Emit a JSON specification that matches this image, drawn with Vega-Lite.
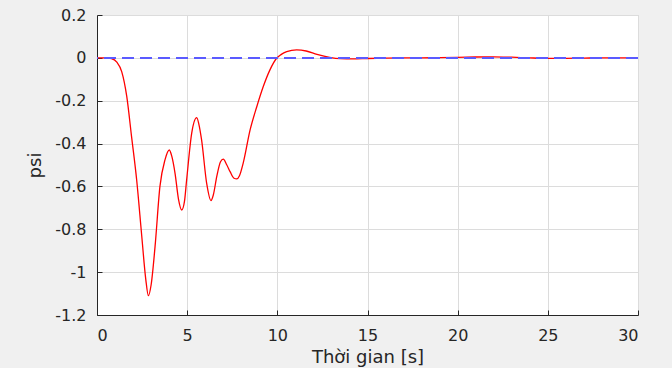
{
  "$schema": "https://vega.github.io/schema/vega-lite/v6.json",
  "width": 541,
  "height": 300,
  "autosize": {"type": "none"},
  "padding": {"left": 97, "top": 15, "right": 34, "bottom": 53},
  "background": "#f0f0f0",
  "config": {
    "view": {"fill": "white", "stroke": "#d4d4d4", "strokeWidth": 1},
    "axis": {
      "labelFont": "DejaVu Sans",
      "titleFont": "DejaVu Sans",
      "labelFontSize": 16,
      "titleFontSize": 18,
      "titleFontWeight": "normal",
      "labelColor": "#262626",
      "titleColor": "#262626",
      "domainColor": "#262626",
      "tickColor": "#262626",
      "gridColor": "#dcdcdc",
      "gridOpacity": 1,
      "tickSize": -5,
      "domainWidth": 1
    }
  },
  "data": {
    "values": [
      {"t": 0, "psi": 0},
      {"t": 0.5, "psi": 0},
      {"t": 0.8, "psi": -0.003},
      {"t": 1.1, "psi": -0.02},
      {"t": 1.37, "psi": -0.064},
      {"t": 1.65, "psi": -0.18},
      {"t": 1.92, "psi": -0.37},
      {"t": 2.2, "psi": -0.57},
      {"t": 2.48, "psi": -0.83},
      {"t": 2.7, "psi": -1.03},
      {"t": 2.85, "psi": -1.11},
      {"t": 3.0, "psi": -1.06},
      {"t": 3.22, "psi": -0.88},
      {"t": 3.49, "psi": -0.6},
      {"t": 3.77, "psi": -0.476},
      {"t": 4.01, "psi": -0.43},
      {"t": 4.15, "psi": -0.46},
      {"t": 4.33, "psi": -0.54},
      {"t": 4.52, "psi": -0.66},
      {"t": 4.7, "psi": -0.71},
      {"t": 4.85, "psi": -0.67},
      {"t": 4.97, "psi": -0.57},
      {"t": 5.25, "psi": -0.352},
      {"t": 5.53, "psi": -0.279},
      {"t": 5.65, "psi": -0.31},
      {"t": 5.8, "psi": -0.383},
      {"t": 6.08, "psi": -0.585},
      {"t": 6.32, "psi": -0.666},
      {"t": 6.45, "psi": -0.64},
      {"t": 6.64, "psi": -0.554},
      {"t": 6.85, "psi": -0.485},
      {"t": 7.0, "psi": -0.473},
      {"t": 7.2, "psi": -0.5},
      {"t": 7.38, "psi": -0.531},
      {"t": 7.6, "psi": -0.562},
      {"t": 7.75, "psi": -0.565},
      {"t": 7.9, "psi": -0.55},
      {"t": 8.11, "psi": -0.49},
      {"t": 8.49, "psi": -0.336},
      {"t": 8.86, "psi": -0.228},
      {"t": 9.22, "psi": -0.134},
      {"t": 9.59, "psi": -0.056},
      {"t": 9.96, "psi": -0.002},
      {"t": 10.2, "psi": 0.015},
      {"t": 10.52, "psi": 0.029},
      {"t": 11.07, "psi": 0.037},
      {"t": 11.6, "psi": 0.032},
      {"t": 12.2, "psi": 0.016},
      {"t": 12.9, "psi": 0.002},
      {"t": 13.5, "psi": -0.004},
      {"t": 14.2, "psi": -0.005},
      {"t": 15, "psi": -0.003},
      {"t": 16, "psi": -0.001},
      {"t": 17, "psi": 0},
      {"t": 18, "psi": 0},
      {"t": 19, "psi": 0.001},
      {"t": 20, "psi": 0.002},
      {"t": 21, "psi": 0.004},
      {"t": 22, "psi": 0.005},
      {"t": 23, "psi": 0.003},
      {"t": 24, "psi": 0},
      {"t": 25, "psi": -0.002},
      {"t": 26, "psi": -0.002},
      {"t": 27, "psi": -0.001},
      {"t": 28, "psi": 0},
      {"t": 29, "psi": 0},
      {"t": 30, "psi": 0}
    ]
  },
  "layer": [
    {
      "mark": {"type": "line", "color": "#ff0000", "strokeWidth": 1.3, "interpolate": "monotone", "clip": true},
      "encoding": {
        "x": {
          "field": "t", "type": "quantitative",
          "scale": {"domain": [0, 30], "nice": false, "zero": false},
          "axis": {"values": [0, 5, 10, 15, 20, 25, 30], "title": "Thời gian [s]", "labelPadding": 17, "titlePadding": 5, "grid": true}
        },
        "y": {
          "field": "psi", "type": "quantitative",
          "scale": {"domain": [-1.2, 0.2], "nice": false, "zero": false},
          "axis": {
            "values": [-1.2, -1, -0.8, -0.6, -0.4, -0.2, 0, 0.2],
            "labelExpr": "replace(format(datum.value, '.1~f'), '−', '-')",
            "title": "psi", "labelPadding": 16, "titlePadding": 10, "grid": true
          }
        }
      }
    },
    {
      "mark": {"type": "rule", "color": "#5a5aff", "opacity": 0.85, "strokeWidth": 1.6, "strokeDash": [12, 6]},
      "encoding": {"y": {"datum": 0}}
    }
  ]
}
